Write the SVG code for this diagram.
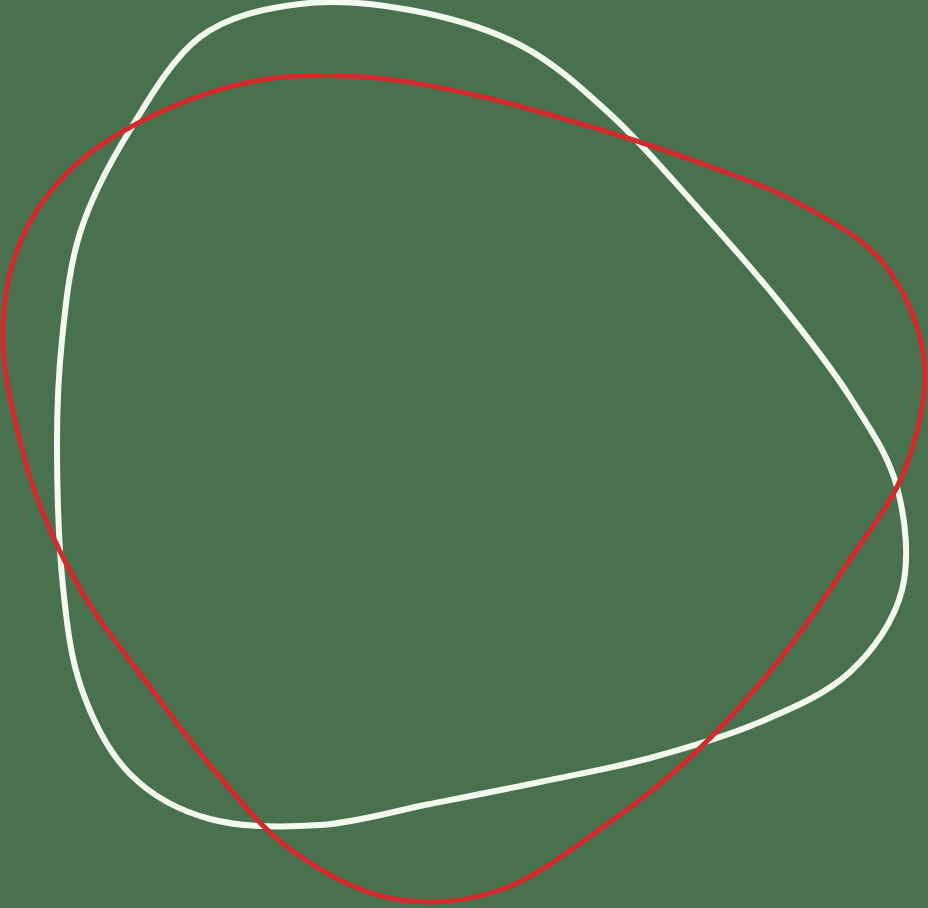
<svg xmlns="http://www.w3.org/2000/svg" width="928" height="908" viewBox="0 0 928 908">
<style>
.blob{fill:none;stroke-linejoin:round}
.white{stroke:#f3fbef;stroke-width:6}
.red{stroke:#d22a2f;stroke-width:5}
</style>
<rect width="928" height="908" fill="#4a714e"/>
<g id="white-outline">
<path class="blob white" d="M57,450 C56.8,408.8 58.2,376.2 62,340 C65.8,303.8 69.2,267.2 80,233 C90.8,198.8 107,167.7 127,135 C147,102.3 171.2,58.8 200,37 C228.8,15.2 265,8.5 300,4 C335,-0.5 373.3,3.2 410,10 C446.7,16.8 486.7,27.7 520,45 C553.3,62.3 580.5,87 610,114 C639.5,141 668.7,175.5 697,207 C725.3,238.5 754.5,271.3 780,303 C805.5,334.7 830.5,366.3 850,397 C869.5,427.7 888.3,454.8 897,487 C905.7,519.2 909.8,559.2 902,590 C894.2,620.8 873.7,650 850,672 C826.3,694 793.3,707.7 760,722 C726.7,736.3 686.7,748 650,758 C613.3,768 576.7,774.3 540,782 C503.3,789.7 466.7,796.8 430,804 C393.3,811.2 356.7,822.5 320,825 C283.3,827.5 241.7,827.5 210,819 C178.3,810.5 151.3,795.5 130,774 C108.7,752.5 93.2,721.2 82,690 C70.8,658.8 67.2,627 63,587 C58.8,547 57.2,491.2 57,450 Z"/>
</g>
<g id="red-outline">
<path class="blob red" d="M23,453 C15.2,422.2 4,378.8 3,345 C2,311.2 6.2,278.8 17,250 C27.8,221.2 45.8,194.2 68,172 C90.2,149.8 118.8,132.2 150,117 C181.2,101.8 219.2,87.7 255,81 C290.8,74.3 328.3,74.7 365,77 C401.7,79.3 438.3,87 475,95 C511.7,103 548.3,114 585,125 C621.7,136 659.2,147.8 695,161 C730.8,174.2 768.5,186.8 800,204 C831.5,221.2 863.3,238 884,264 C904.7,290 920.5,325.8 924,360 C927.5,394.2 917.8,435 905,469 C892.2,503 867.8,532.3 847,564 C826.2,595.7 805,627.8 780,659 C755,690.2 725.3,723.8 697,751 C668.7,778.2 642.8,798.8 610,822 C577.2,845.2 536.7,877.3 500,890 C463.3,902.7 425,904.8 390,898 C355,891.2 319.3,870.3 290,849 C260.7,827.7 237.3,797 214,770 C190.7,743 170.7,714.5 150,687 C129.3,659.5 106.7,631.2 90,605 C73.3,578.8 61.2,555.3 50,530 C38.8,504.7 30.8,483.8 23,453 Z"/>
</g>
</svg>
